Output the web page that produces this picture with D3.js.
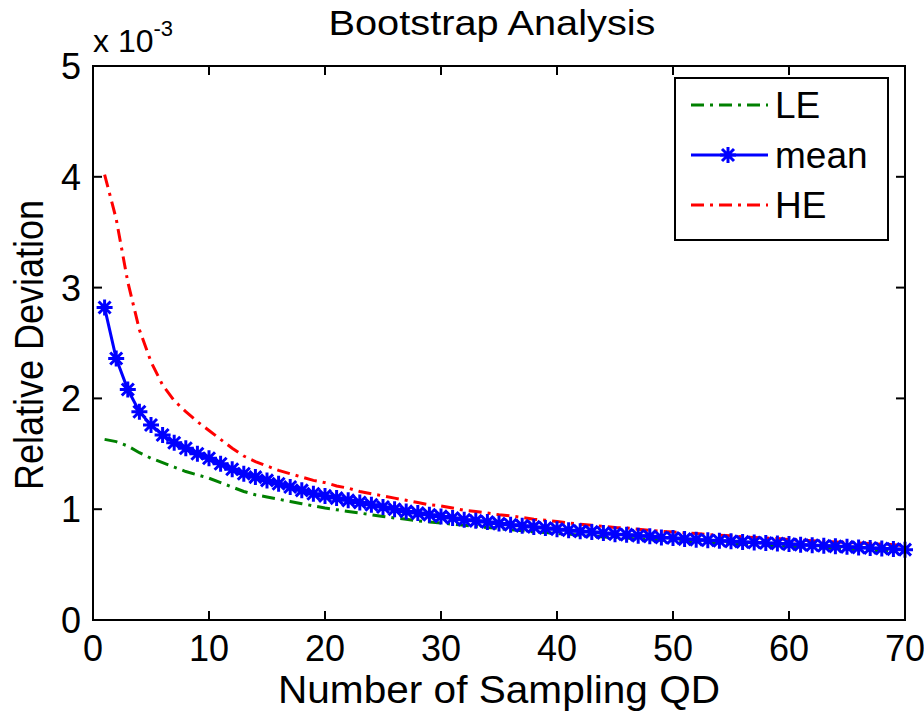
<!DOCTYPE html>
<html>
<head>
<meta charset="utf-8">
<script src="https://cdn.jsdelivr.net/npm/d3@7"></script>
<style>
  body { margin: 0; background: #fff; }
  svg { font-family: "Liberation Sans", Arial, sans-serif; }
</style>
</head>
<body>
<svg id="chart" width="924" height="715"></svg>
<script>
// values in units of 1e-3, x = 1..70
const meanVals = [2.82, 2.36, 2.08, 1.88, 1.76, 1.67, 1.60, 1.55, 1.50, 1.46,
  1.41, 1.36, 1.32, 1.29, 1.26, 1.23, 1.20, 1.17, 1.14, 1.12,
  1.10, 1.08, 1.06, 1.04, 1.02, 1.00, 0.98, 0.965, 0.95, 0.935,
  0.92, 0.905, 0.895, 0.885, 0.87, 0.86, 0.85, 0.84, 0.83, 0.82,
  0.81, 0.80, 0.795, 0.785, 0.775, 0.77, 0.76, 0.755, 0.745, 0.74,
  0.73, 0.725, 0.72, 0.715, 0.71, 0.705, 0.70, 0.695, 0.69, 0.685,
  0.68, 0.675, 0.67, 0.665, 0.66, 0.655, 0.65, 0.645, 0.64, 0.635];

const heVals = [4.02, 3.62, 3.05, 2.62, 2.33, 2.12, 1.98, 1.88, 1.79, 1.71,
  1.63, 1.55, 1.48, 1.43, 1.39, 1.35, 1.32, 1.29, 1.26, 1.24,
  1.21, 1.19, 1.16, 1.14, 1.12, 1.10, 1.08, 1.06, 1.04, 1.03,
  1.01, 0.99, 0.98, 0.965, 0.95, 0.94, 0.925, 0.91, 0.90, 0.89,
  0.875, 0.865, 0.855, 0.845, 0.835, 0.83, 0.82, 0.81, 0.80, 0.795,
  0.785, 0.78, 0.77, 0.765, 0.76, 0.75, 0.745, 0.74, 0.735, 0.725,
  0.72, 0.715, 0.71, 0.705, 0.70, 0.695, 0.69, 0.685, 0.68, 0.67];

const leVals = [1.63, 1.61, 1.57, 1.51, 1.46, 1.42, 1.38, 1.34, 1.31, 1.28,
  1.24, 1.20, 1.16, 1.13, 1.11, 1.09, 1.07, 1.05, 1.03, 1.01,
  0.995, 0.98, 0.965, 0.95, 0.935, 0.92, 0.91, 0.895, 0.885, 0.875,
  0.865, 0.855, 0.845, 0.835, 0.825, 0.815, 0.805, 0.795, 0.79, 0.78,
  0.775, 0.765, 0.76, 0.75, 0.745, 0.74, 0.73, 0.725, 0.72, 0.715,
  0.71, 0.705, 0.70, 0.695, 0.69, 0.685, 0.68, 0.675, 0.67, 0.665,
  0.66, 0.655, 0.65, 0.645, 0.64, 0.635, 0.63, 0.625, 0.62, 0.615];

const xTicks = [0, 10, 20, 30, 40, 50, 60, 70];
const yTicks = [0, 1, 2, 3, 4, 5];
const seriesNames = ["LE", "mean", "HE"];

const svg = d3.select("#chart");
const plotLeft = 93, plotRight = 905, plotTop = 66, plotBottom = 620;

const x = d3.scaleLinear().domain([0, 70]).range([plotLeft, plotRight]);
const y = d3.scaleLinear().domain([0, 5]).range([plotBottom, plotTop]);

const pts = (vals) => vals.map((v, i) => [i + 1, v]);
const line = d3.line().x((d) => x(d[0])).y((d) => y(d[1]));
const dashDot = "13,6,3,6";

const plot = svg.append("g");

// LE
plot.append("path")
    .datum(pts(leVals))
    .attr("d", line)
    .attr("fill", "none")
    .attr("stroke", "#008000")
    .attr("stroke-width", 3)
    .attr("stroke-dasharray", dashDot);

// HE
plot.append("path")
    .datum(pts(heVals))
    .attr("d", line)
    .attr("fill", "none")
    .attr("stroke", "#ff0000")
    .attr("stroke-width", 3)
    .attr("stroke-dasharray", dashDot);

// mean
plot.append("path")
    .datum(pts(meanVals))
    .attr("d", line)
    .attr("fill", "none")
    .attr("stroke", "#0000ff")
    .attr("stroke-width", 3);

const star = "M-8,0H8M0,-8V8M-6,-6L6,6M-6,6L6,-6";
plot.selectAll(".star")
    .data(pts(meanVals))
    .join("path")
    .attr("class", "star")
    .attr("transform", (d) => `translate(${x(d[0])},${y(d[1])})`)
    .attr("d", star)
    .attr("stroke", "#0000ff")
    .attr("stroke-width", 3)
    .attr("fill", "none");

// axes box with inward ticks
const axisG = svg.append("g").attr("font-size", 36);
const tickLen = 9;

axisG.append("rect")
    .attr("x", plotLeft).attr("y", plotTop)
    .attr("width", plotRight - plotLeft).attr("height", plotBottom - plotTop)
    .attr("fill", "none").attr("stroke", "#000").attr("stroke-width", 2);

xTicks.forEach((t) => {
    axisG.append("line")
        .attr("x1", x(t)).attr("x2", x(t))
        .attr("y1", plotBottom).attr("y2", plotBottom - tickLen)
        .attr("stroke", "#000").attr("stroke-width", 2);
    axisG.append("line")
        .attr("x1", x(t)).attr("x2", x(t))
        .attr("y1", plotTop).attr("y2", plotTop + tickLen)
        .attr("stroke", "#000").attr("stroke-width", 2);
    axisG.append("text")
        .attr("x", x(t)).attr("y", plotBottom + 41)
        .attr("text-anchor", "middle")
        .text(t);
});

yTicks.forEach((t) => {
    axisG.append("line")
        .attr("x1", plotLeft).attr("x2", plotLeft + tickLen)
        .attr("y1", y(t)).attr("y2", y(t))
        .attr("stroke", "#000").attr("stroke-width", 2);
    axisG.append("line")
        .attr("x1", plotRight).attr("x2", plotRight - tickLen)
        .attr("y1", y(t)).attr("y2", y(t))
        .attr("stroke", "#000").attr("stroke-width", 2);
    axisG.append("text")
        .attr("x", plotLeft - 12).attr("y", y(t) + 13)
        .attr("text-anchor", "end")
        .text(t);
});

// exponent label
const expo = svg.append("text")
    .attr("x", plotLeft).attr("y", 52)
    .attr("font-size", 32);
expo.append("tspan").text("x 10");
expo.append("tspan").attr("dy", -16).attr("font-size", 22).text("-3");

// title and axis labels
svg.append("text")
    .attr("x", 492).attr("y", 35)
    .attr("text-anchor", "middle")
    .attr("font-size", 35)
    .attr("textLength", 327)
    .attr("lengthAdjust", "spacingAndGlyphs")
    .text("Bootstrap Analysis");

svg.append("text")
    .attr("x", 499).attr("y", 703)
    .attr("text-anchor", "middle")
    .attr("font-size", 38)
    .attr("textLength", 442)
    .attr("lengthAdjust", "spacingAndGlyphs")
    .text("Number of Sampling QD");

svg.append("text")
    .attr("transform", `translate(43,345) rotate(-90)`)
    .attr("text-anchor", "middle")
    .attr("font-size", 40)
    .attr("textLength", 290)
    .attr("lengthAdjust", "spacingAndGlyphs")
    .text("Relative Deviation");

// legend
const lg = svg.append("g");
const lgX = 675, lgY = 78, lgW = 213, lgH = 162;
lg.append("rect")
    .attr("x", lgX).attr("y", lgY)
    .attr("width", lgW).attr("height", lgH)
    .attr("fill", "#fff").attr("stroke", "#000").attr("stroke-width", 2);

const lgColors = ["#008000", "#0000ff", "#ff0000"];
seriesNames.forEach((name, i) => {
    const cy = lgY + 27 + i * 50;
    const l = lg.append("line")
        .attr("x1", lgX + 16).attr("x2", lgX + 93)
        .attr("y1", cy).attr("y2", cy)
        .attr("stroke", lgColors[i]).attr("stroke-width", 3);
    if (name !== "mean") {
        l.attr("stroke-dasharray", dashDot);
    } else {
        lg.append("path")
            .attr("transform", `translate(${lgX + 53},${cy})`)
            .attr("d", star)
            .attr("stroke", lgColors[i]).attr("stroke-width", 3)
            .attr("fill", "none");
    }
    lg.append("text")
        .attr("x", lgX + 100).attr("y", cy + 13)
        .attr("font-size", 37)
        .text(name);
});
</script>
</body>
</html>
